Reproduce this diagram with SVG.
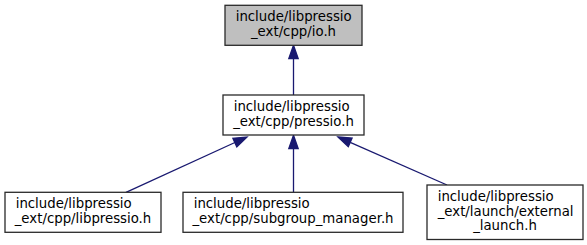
<svg xmlns="http://www.w3.org/2000/svg" width="587" height="245" viewBox="0 0 587 245">
  <style>
    .node rect { fill: #ffffff; stroke: #2a2a2a; stroke-width: 1.3; }
    .node.root rect { fill: #bfbfbf; }
    .node text { font-family: "DejaVu Sans", "Liberation Sans", sans-serif; font-size: 13.3px; fill: #000; }
    .mid { text-anchor: middle; }
    .edge line { stroke: #191970; stroke-width: 1.3; }
    .edge polygon { fill: #191970; stroke: #191970; stroke-width: 1.3; }
  </style>
  <rect width="587" height="245" fill="#ffffff"/>

  <g id="connectors">
    <g class="edge" id="edge-pressio-io">
      <line x1="293.5" y1="95" x2="293.5" y2="58.6"/>
      <polygon points="293.5,45.3 298.2,58.6 288.8,58.6"/>
    </g>
    <g class="edge" id="edge-libpressio-pressio">
      <line x1="126" y1="192.3" x2="234.9" y2="142.5"/>
      <polygon points="247,137 236.8,146.8 232.9,138.2"/>
    </g>
    <g class="edge" id="edge-subgroup-pressio">
      <line x1="293.5" y1="192.3" x2="293.5" y2="148.6"/>
      <polygon points="293.5,135.3 298.2,148.6 288.8,148.6"/>
    </g>
    <g class="edge" id="edge-external-pressio">
      <line x1="447" y1="185" x2="350.2" y2="142.4"/>
      <polygon points="338,137 352.1,138.1 348.3,146.7"/>
    </g>
  </g>

  <g id="node-io" class="node root">
    <rect x="225" y="5.3" width="137" height="40"/>
    <text x="235.7" y="21.3">include/libpressio</text>
    <text x="293.5" y="36" class="mid">_ext/cpp/io.h</text>
  </g>

  <g id="node-pressio" class="node">
    <rect x="223" y="95" width="141" height="40"/>
    <text x="233.7" y="111">include/libpressio</text>
    <text x="293.5" y="125.7" class="mid">_ext/cpp/pressio.h</text>
  </g>

  <g id="node-libpressio" class="node">
    <rect x="5" y="192.3" width="156" height="40"/>
    <text x="15.7" y="208.3">include/libpressio</text>
    <text x="83" y="223" class="mid">_ext/cpp/libpressio.h</text>
  </g>

  <g id="node-subgroup-manager" class="node">
    <rect x="183" y="192.3" width="220" height="40"/>
    <text x="193.7" y="208.3">include/libpressio</text>
    <text x="293" y="223" class="mid">_ext/cpp/subgroup_manager.h</text>
  </g>

  <g id="node-external-launch" class="node">
    <rect x="427" y="185" width="156" height="54.5"/>
    <text x="437.7" y="201">include/libpressio</text>
    <text x="437.7" y="215.7">_ext/launch/external</text>
    <text x="505" y="230.3" class="mid">_launch.h</text>
  </g>
</svg>
